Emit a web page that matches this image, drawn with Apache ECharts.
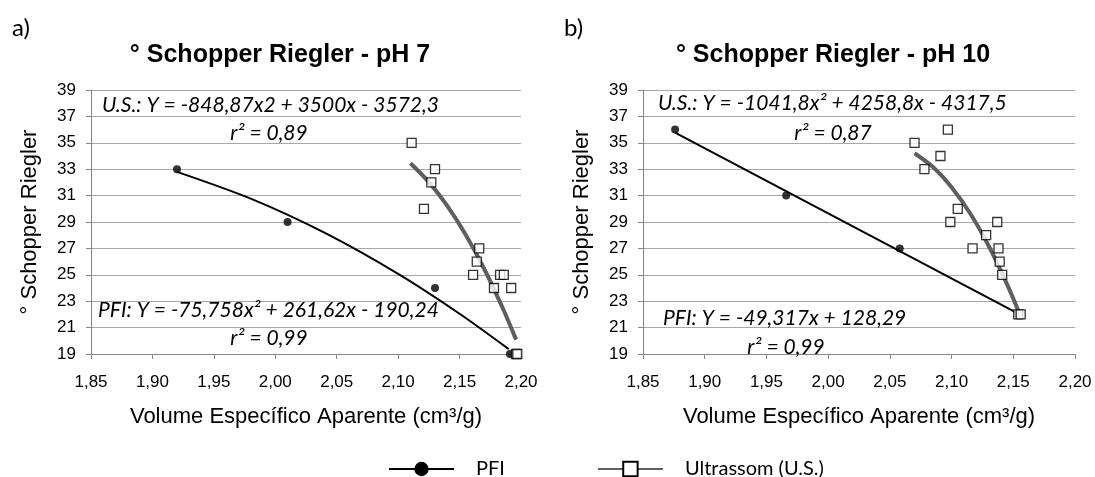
<!DOCTYPE html>
<html>
<head>
<meta charset="utf-8">
<script src="https://cdn.jsdelivr.net/npm/echarts@6/dist/echarts.min.js"></script>
<style>html,body{margin:0;padding:0;background:#fff;}#c{width:1095px;height:477px;}</style>
</head>
<body>
<div id="c"></div>
<script>
// ---- data ----
const pfiPh7 = [[1.920,33],[2.010,29],[2.130,24],[2.191,19]];
const usPh7 = [[2.111,35],[2.130,33],[2.127,32],[2.121,30],[2.166,27],[2.164,26],[2.161,25],[2.183,25],[2.186,25],[2.178,24],[2.192,24],[2.196,19],[2.197,19]];
const pfiFitPh7 = [[1.92,32.80],[1.98,30.77],[2.04,28.19],[2.10,25.07],[2.15,22.05],[2.19,19.37]];
const usFitPh7 = [[2.110,33.45],[2.125,32.02],[2.140,30.22],[2.155,28.03],[2.170,25.46],[2.185,22.50],[2.196,20.09]];

const pfiPh10 = [[1.876,36],[1.966,31],[2.058,27],[2.154,22]];
const usPh10 = [[2.070,35],[2.078,33],[2.091,34],[2.097,36],[2.105,30],[2.099,29],[2.117,27],[2.128,28],[2.137,29],[2.138,27],[2.139,26],[2.141,25],[2.154,22],[2.156,22]];
const pfiFitPh10 = [[1.876,35.77],[2.154,22.06]];
const usFitPh10 = [[2.070,34.21],[2.085,33.16],[2.100,31.64],[2.115,29.66],[2.130,27.20],[2.145,24.28],[2.155,22.07]];

const titles = ['° Schopper Riegler - pH 7', '° Schopper Riegler - pH 10'];
const panelLabels = ['a)', 'b)'];
const xName = 'Volume Específico Aparente (cm³/g)';
const yName = '° Schopper Riegler';
const legendNames = ['PFI', 'Ultrassom (U.S.)'];
const equations = [
  'U.S.: Y = -848,87x2 + 3500x - 3572,3', 'r² = 0,89',
  'PFI: Y = -75,758x² + 261,62x - 190,24', 'r² = 0,99',
  'U.S.: Y = -1041,8x² + 4258,8x - 4317,5', 'r² = 0,87',
  'PFI: Y = -49,317x + 128,29', 'r² = 0,99'
];

// ---- styling ----
const AX = '#868686', GRID = '#a8a8a8', US_LINE = '#5f5f5f';
const ARIAL = 'Liberation Sans', CAL = 'Lato';

function xAxis(i){
  return {
    type:'value', gridIndex:i, min:1.85, max:2.20, interval:0.05,
    name:xName, nameLocation:'middle', nameGap:52,
    nameTextStyle:{fontFamily:ARIAL, fontSize:22, color:'#000'},
    axisLine:{show:true, lineStyle:{color:AX, width:1}},
    axisTick:{show:true, length:5, lineStyle:{color:AX}},
    axisLabel:{margin:20, fontFamily:ARIAL, fontSize:17, color:'#000',
      formatter:v=>v.toFixed(2).replace('.', ',')},
    splitLine:{show:false}
  };
}
function yAxis(i){
  return {
    type:'value', gridIndex:i, min:19, max:39, interval:2,
    name:yName, nameLocation:'middle', nameGap:50, nameRotate:90,
    nameTextStyle:{fontFamily:ARIAL, fontSize:22, color:'#000'},
    axisLine:{show:true, lineStyle:{color:AX, width:1}},
    axisTick:{show:true, length:5, lineStyle:{color:AX}},
    axisLabel:{margin:15, fontFamily:ARIAL, fontSize:17, color:'#000'},
    splitLine:{show:true, lineStyle:{color:GRID, width:1}}
  };
}
function fitLine(data, i, color, width, name){
  return {name, type:'line', xAxisIndex:i, yAxisIndex:i, data, smooth:0.3,
    symbol:'none', lineStyle:{color, width}, z:2, silent:true};
}
function pfiScatter(data, i, name){
  return {name, type:'scatter', xAxisIndex:i, yAxisIndex:i, data,
    symbol:'circle', symbolSize:8, itemStyle:{color:'#000'}, z:3};
}
function usScatter(data, i, name){
  return {name, type:'scatter', xAxisIndex:i, yAxisIndex:i, data,
    symbol:'rect', symbolSize:9, itemStyle:{color:'#fff', borderColor:'#000', borderWidth:1.3}, z:4};
}
function txt(text, x, y, align){
  return {type:'text', style:{text, x, y, font:'italic 21px Lato', fill:'#000',
    textAlign:align, textVerticalAlign:'middle', align:align, verticalAlign:'middle'}, z:10};
}

const option = {
  animation:false,
  backgroundColor:'#fff',
  title:[
    {text:titles[0], left:280, top:43, textAlign:'center', padding:0,
      textStyle:{fontFamily:ARIAL, fontSize:25, fontWeight:'bold', color:'#000'}},
    {text:titles[1], left:833, top:43, textAlign:'center', padding:0,
      textStyle:{fontFamily:ARIAL, fontSize:25, fontWeight:'bold', color:'#000'}},
    {text:panelLabels[0], left:12, top:16, padding:0,
      textStyle:{fontFamily:CAL, fontSize:24, fontWeight:'normal', color:'#000'}},
    {text:panelLabels[1], left:564, top:16, padding:0,
      textStyle:{fontFamily:CAL, fontSize:24, fontWeight:'normal', color:'#000'}}
  ],
  legend:{
    data:legendNames, left:388, top:459, padding:0,
    itemWidth:65, itemHeight:18, itemGap:92,
    textStyle:{fontFamily:CAL, fontSize:20, color:'#000', padding:[0,0,0,17]}
  },
  grid:[
    {left:91, right:574, top:90, bottom:123},
    {left:643, right:20, top:90, bottom:123}
  ],
  xAxis:[xAxis(0), xAxis(1)],
  yAxis:[yAxis(0), yAxis(1)],
  series:[
    {name:legendNames[0], type:'line', xAxisIndex:0, yAxisIndex:0, data:[], symbol:'circle',
      lineStyle:{color:'#000', width:4}, itemStyle:{color:'#000'}},
    {name:legendNames[1], type:'line', xAxisIndex:0, yAxisIndex:0, data:[], symbol:'rect',
      lineStyle:{color:US_LINE, width:4}, itemStyle:{color:'#fff', borderColor:'#000', borderWidth:1.5}},
    fitLine(pfiFitPh7, 0, '#000', 2, 'pfiFit7'),
    fitLine(usFitPh7, 0, US_LINE, 4, 'usFit7'),
    pfiScatter(pfiPh7, 0, 'pfi7'),
    usScatter(usPh7, 0, 'us7'),
    fitLine(pfiFitPh10, 1, '#000', 2, 'pfiFit10'),
    fitLine(usFitPh10, 1, US_LINE, 4, 'usFit10'),
    pfiScatter(pfiPh10, 1, 'pfi10'),
    usScatter(usPh10, 1, 'us10')
  ],
  graphic:[
    txt(equations[0], 102, 105, 'left'),
    txt(equations[1], 269, 133, 'center'),
    txt(equations[2], 98, 310, 'left'),
    txt(equations[3], 269, 338, 'center'),
    txt(equations[4], 658, 103, 'left'),
    txt(equations[5], 833, 133, 'center'),
    txt(equations[6], 663, 318, 'left'),
    txt(equations[7], 786, 347, 'center')
  ]
};
const chart = echarts.init(document.getElementById('c'), null, {renderer:'canvas'});
chart.setOption(option);
</script>
</body>
</html>
